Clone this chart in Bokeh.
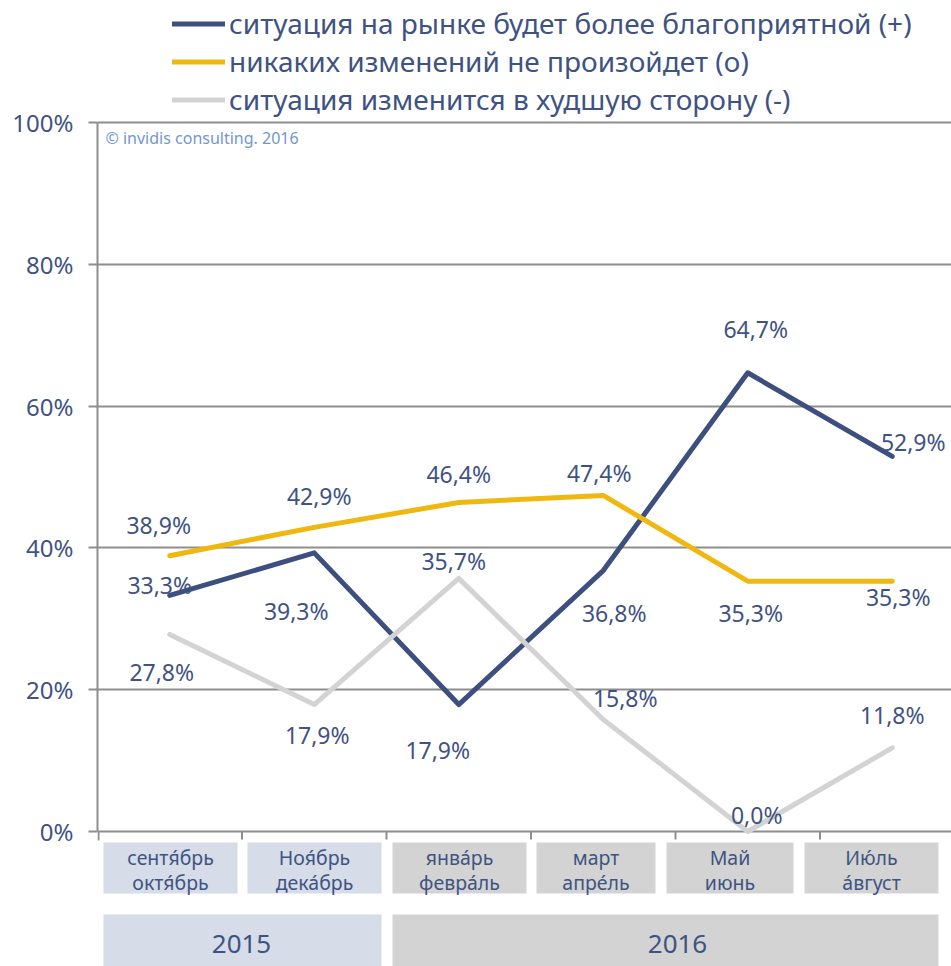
from bokeh.plotting import figure
from bokeh.models import Range1d, FixedTicker, Legend, LegendItem, ColumnDataSource, LinearAxis, Grid
from bokeh.embed import file_html
from bokeh.resources import INLINE
from bokeh.core.properties import value

# ---------------- data ----------------
period_line1 = ["сентя\u0301брь", "Ноя\u0301брь", "янва\u0301рь", "март", "Май", "Ию\u0301ль"]
period_line2 = ["октя\u0301брь", "дека\u0301брь", "февра\u0301ль", "апре\u0301ль", "июнь", "а\u0301вгуст"]
period_year = ["2015", "2015", "2016", "2016", "2016", "2016"]

better = [33.3, 39.3, 17.9, 36.8, 64.7, 52.9]
same = [38.9, 42.9, 46.4, 47.4, 35.3, 35.3]
worse = [27.8, 17.9, 35.7, 15.8, 0.0, 11.8]

series_names = [
    "ситуация на рынке будет более благоприятной (+)",
    "никаких изменений не произойдет (o)",
    "ситуация изменится в худшую сторону (-)",
]

years = ["2015", "2016"]

y_ticks = [0, 20, 40, 60, 80, 100]
copyright_text = "© invidis consulting. 2016"

# ---------------- style / layout ----------------
FONT = "Noto Sans"
TXT = "#3F5383"
NAVY = "#3C4F7E"
YELLOW = "#EFB810"
LGRAY = "#D3D3D3"
GRID = "#8E8E8E"
BOX_2015 = "#D6DCE8"
BOX_2016 = "#D3D3D3"

# label offsets in screen pixels (dx, dy down)
off_better = [(-10, -10), (-18, 58), (-21, 45), (11, 42), (8, -44), (21, -14)]
off_same = [(-11, -31), (5, -31), (0, -29), (-4, -22), (3, 32), (6, 16)]
off_worse = [(-8, 38), (3, 30), (-5, -17), (22, -21), (9, -17), (0, -33)]

# table cells under the chart (page pixels)
cell_left_px = [103, 247, 392, 536, 666, 804]
cell_right_px = [237, 381, 526, 655, 793, 938]
cell_top_px, cell_bottom_px = 842, 893
line1_px, line2_px = 857, 882
year_left_px = [103, 392]
year_right_px = [381, 938]
year_text_px = [241, 677]
year_top_px, year_bottom_px, year_mid_px = 914, 966, 943

W, H = 951, 966
LEFT = 97
PX_PER_CAT = 144.5
PX_PER_PCT = 7.09
TOP_100 = 122   # page y of 100%
ZERO = TOP_100 + 100 * PX_PER_PCT  # page y of 0%

x_start = -0.5
x_end = x_start + (W - LEFT) / PX_PER_CAT
y_end = 100 + TOP_100 / PX_PER_PCT
y_start = y_end - H / PX_PER_PCT

def dx(px):  # page x -> data x
    return x_start + (px - LEFT) / PX_PER_CAT

def dy(py):  # page y -> data y
    return (ZERO - py) / PX_PER_PCT

p = figure(width=W, height=H, output_backend="svg", toolbar_location=None,
           x_range=Range1d(x_start, x_end), y_range=Range1d(y_start, y_end),
           min_border_left=LEFT, min_border_right=0, min_border_top=0, min_border_bottom=0,
           x_axis_location=None, y_axis_location=None)
p.outline_line_color = None
p.background_fill_color = "white"
p.border_fill_color = "white"

yaxis = LinearAxis(ticker=FixedTicker(ticks=y_ticks), bounds=(0, 100))
yaxis.major_label_overrides = {t: f"{t}%" for t in y_ticks}
yaxis.axis_line_color = GRID
yaxis.axis_line_width = 2
yaxis.major_tick_line_color = GRID
yaxis.major_tick_line_width = 2
yaxis.major_tick_in = 0
yaxis.major_tick_out = 9
yaxis.minor_tick_line_color = None
yaxis.major_label_standoff = 15
yaxis.major_label_text_font = FONT
yaxis.major_label_text_font_size = "24px"
yaxis.major_label_text_color = TXT
p.add_layout(yaxis, "left")

p.xgrid.visible = False
p.ygrid.visible = False
grid = Grid(dimension=1, ticker=FixedTicker(ticks=y_ticks), bounds=(x_start, x_end + 1))
grid.grid_line_color = GRID
grid.grid_line_width = 2
p.add_layout(grid)

n = len(better)
idx = list(range(n))

# x tick marks at category boundaries, below the 0 line
bnd = [i + 0.5 for i in range(n - 1)]
p.segment(x0=bnd, y0=[0] * len(bnd), x1=bnd, y1=[dy(ZERO + 8)] * len(bnd),
          line_color=GRID, line_width=2)
p.segment(x0=[dx(LEFT + 1)], y0=[0], x1=[dx(LEFT + 1)], y1=[dy(ZERO + 9)],
          line_color=GRID, line_width=2)

# category cells
box_colors = [BOX_2015 if y == "2015" else BOX_2016 for y in period_year]
p.quad(left=[dx(v) for v in cell_left_px], right=[dx(v) for v in cell_right_px],
       top=[dy(cell_top_px)] * n, bottom=[dy(cell_bottom_px)] * n,
       fill_color=box_colors, line_color=None)
cell_mid = [dx((a + b) / 2) for a, b in zip(cell_left_px, cell_right_px)]
p.text(x=cell_mid, y=[dy(line1_px)] * n, text=period_line1, text_align="center",
       text_baseline="middle", text_font=value(FONT), text_font_size="19.5px", text_color=TXT)
p.text(x=cell_mid, y=[dy(line2_px)] * n, text=period_line2, text_align="center",
       text_baseline="middle", text_font=value(FONT), text_font_size="19.5px", text_color=TXT)

# year cells
year_colors = [BOX_2015, BOX_2016]
p.quad(left=[dx(v) for v in year_left_px], right=[dx(v) for v in year_right_px],
       top=[dy(year_top_px)] * len(years), bottom=[dy(year_bottom_px + 2)] * len(years),
       fill_color=year_colors, line_color=None)
p.text(x=[dx(v) for v in year_text_px], y=[dy(year_mid_px)] * len(years),
       text=years, text_align="center", text_baseline="middle",
       text_font=value(FONT), text_font_size="26px", text_color=TXT)

# lines
r1 = p.line(idx, better, line_color=NAVY, line_width=5, line_join="round", line_cap="round")
r2 = p.line(idx, same, line_color=YELLOW, line_width=5, line_join="round", line_cap="round")
r3 = p.line(idx, worse, line_color=LGRAY, line_width=5, line_join="round", line_cap="round")

def fmt(v):
    return f"{v:.1f}%".replace(".", ",")

for vals, offs in ((better, off_better), (same, off_same), (worse, off_worse)):
    src = ColumnDataSource(dict(x=idx, y=vals, t=[fmt(v) for v in vals],
                                dx=[o[0] for o in offs], dy=[o[1] for o in offs]))
    p.text(x="x", y="y", text="t", x_offset="dx", y_offset="dy", source=src,
           text_align="center", text_baseline="middle", text_font=value(FONT),
           text_font_size="23px", text_color=TXT)

# copyright
p.text(x=[dx(105)], y=[dy(137)], text=[copyright_text], text_align="left",
       text_baseline="middle", text_font=value(FONT), text_font_size="16px", text_color="#7396D2")

legend = Legend(items=[LegendItem(label=series_names[0], renderers=[r1]),
                       LegendItem(label=series_names[1], renderers=[r2]),
                       LegendItem(label=series_names[2], renderers=[r3])],
                location=(75, 848), orientation="vertical",
                glyph_width=53, glyph_height=37, label_height=37, spacing=0,
                padding=0, margin=0, label_standoff=4,
                border_line_color=None, background_fill_alpha=0,
                label_text_font=FONT, label_text_font_size="28px", label_text_color=TXT)
p.add_layout(legend)

open("out.html", "w").write(file_html(p, INLINE))
